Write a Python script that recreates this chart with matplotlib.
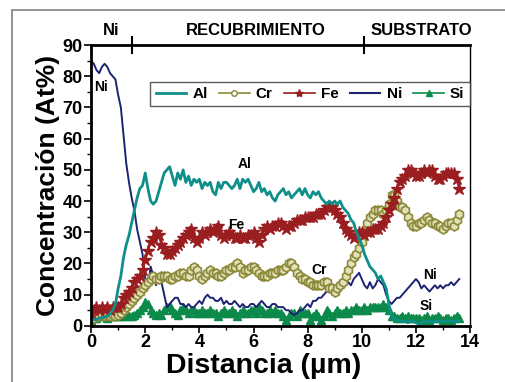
import numpy as np
import matplotlib.pyplot as plt
from matplotlib.lines import Line2D
from matplotlib.patches import Rectangle
import matplotlib.transforms as mtransforms

plt.rcParams["font.family"] = ["Liberation Sans", "DejaVu Sans"]
plt.rcParams["font.weight"] = "bold"

# distance (um), 0.1 step
x = np.round(np.arange(0, 13.65, 0.1), 2)

al = [2, 2, 2, 2.5, 2.5, 3, 3, 4, 5, 7,
      12, 16, 22, 26, 29, 33, 37, 41, 44, 45,
      49, 44, 40, 39, 40, 43, 46, 49, 50, 51,
      48, 45, 49, 47, 50, 46, 48, 45, 47, 46,
      47, 44, 46, 45, 46, 43, 42, 46, 44, 46,
      46, 45, 44, 45, 47, 44, 47, 46, 47, 45,
      43, 44, 46, 43, 44, 42, 43, 41, 40, 42,
      43, 44, 42, 43, 41, 42, 43, 44, 42, 44,
      42, 41, 43, 42, 43, 41, 40, 39, 40, 39,
      40, 39, 40, 38, 37, 36, 34, 33, 30, 28,
      26, 23, 21, 19, 18, 17, 15, 16, 14, 12,
      7, 3, 2, 2, 1.5, 1.5, 1.5, 1, 1.5, 1.5,
      1, 0.5, 1, 1.5, 1.5, 1.5, 1, 1.5, 1.5, 1.5,
      1.5, 1.5, 1.5, 1.5, 1.5, 1.5, 1.5]

ni = [85, 84, 82, 81, 83, 84, 83, 81, 80, 79,
      74, 70, 61, 52, 46, 41, 37, 31, 27, 23,
      15, 12, 19, 16, 13, 16, 14, 10, 6, 7,
      8, 9, 9, 7, 7, 6, 7, 6, 6, 7,
      8, 7, 9, 10, 9, 9, 8, 8, 9, 7,
      8, 7, 7, 8, 7, 6, 7, 6, 6, 7,
      7, 6, 7, 8, 7, 6, 6, 7, 7, 6,
      6, 6, 5, 5, 4, 3.5, 4, 5, 5, 6,
      7, 6, 8, 8, 9, 9, 10, 11, 12, 11,
      12, 11, 13, 12, 13, 14, 13, 15, 16, 17,
      15, 13, 12, 14, 12, 13, 15, 14, 13, 10,
      8, 7, 8, 9, 9, 10, 11, 12, 13, 14,
      15, 14, 12, 13, 12, 11, 12, 13, 12, 13,
      12, 13, 13, 14, 13, 14, 15]

fe = [4, 5, 6, 5, 6, 5, 6, 5, 6, 6,
      6, 7, 9, 10, 11, 12, 14, 15, 16, 18,
      21, 24, 27, 28, 30, 29, 26, 25, 23, 23,
      24, 25, 26, 27, 28, 29, 30, 31, 28, 27,
      28, 30, 29, 30, 31, 30, 31, 32, 29, 28,
      29, 30, 29, 28, 28, 29, 28, 28, 29, 29,
      30, 28, 27, 29, 31, 32, 31, 32, 32, 33,
      33, 32, 31, 32, 32, 33, 34, 34, 34, 35,
      35, 35, 35, 36, 36, 36, 37, 38, 38, 38,
      37, 36, 35, 33, 31, 30, 29, 28, 29, 30,
      30, 29, 30, 30, 31, 31, 31, 32, 33, 35,
      37, 39, 41, 44, 46, 47, 48, 50, 50, 49,
      48, 48, 49, 50, 49, 50, 50, 48, 47, 47,
      48, 49, 49, 49, 49, 47, 44]

cr = [3, 2.5, 3, 3, 3.5, 3, 3.5, 3, 3.5, 3,
      3.5, 4, 5, 6, 7, 8, 9, 10, 11, 12,
      13, 14, 15, 16, 15, 15, 16, 16, 16, 15,
      15, 16, 16, 17, 17, 16, 16, 18, 19, 18,
      16, 15, 16, 17, 18, 17, 17, 16, 16, 17,
      18, 18, 19, 19, 20, 19, 17, 18, 18, 19,
      19, 18, 17, 16, 16, 16, 17, 17, 17, 18,
      18, 18, 19, 20, 20, 19, 17, 16, 15, 15,
      14, 14, 13, 13, 13, 13, 14, 14, 12, 12,
      11, 12, 13, 14, 16, 18, 20, 22, 23, 25,
      27, 30, 33, 35, 36, 37, 37, 37, 36, 37,
      39, 42, 42, 40, 38, 38, 37, 35, 33, 32,
      32, 33, 33, 34, 35, 34, 33, 33, 32, 32,
      31, 32, 33, 33, 32, 34, 36]

si = [2, 2.5, 2.5, 3, 3, 3, 2.5, 3, 3, 3,
      3, 3, 3, 3.5, 3, 3, 3.5, 4, 5, 6,
      7.5, 7, 5, 4, 3.5, 4, 3.5, 5, 6, 6.5,
      5, 4, 3.5, 5, 6, 5, 4, 5, 5, 4,
      4, 5, 4, 4, 5, 4, 4, 3, 4, 5,
      4, 4, 5, 4, 3, 4, 5, 4, 4, 5,
      5, 4, 6, 5, 4, 4, 5, 4, 5, 4,
      4, 3, 2, 3, 4, 4, 3, 5, 4, 4,
      4, 2, 3, 4, 3, 2, 3, 5, 4, 3,
      4, 5, 4, 4, 5, 4, 5, 5, 6, 5,
      5, 6, 5, 6, 6, 6, 6, 6, 7, 6,
      5, 3, 3, 2.5, 2.5, 3, 2.5, 3, 2.5, 2.5,
      2.5, 2.5, 2, 2.5, 3, 2, 2.5, 2.5, 3, 2.5,
      2, 2.5, 2.5, 2, 2.5, 3, 2.5]

zones = ["Ni", "RECUBRIMIENTO", "SUBSTRATO"]
zone_centers = [0.75, 6.1, 12.2]
zone_edges = [1.5, 10.1]

c_al = "#0f8f8a"
c_cr = "#8b8a3a"
c_fe = "#9a1d20"
c_ni = "#1c2472"
c_si = "#0c8a4a"

fig = plt.figure(figsize=(5.06, 3.82), dpi=100)
ax = fig.add_axes([0.180, 0.147, 0.749, 0.735])

# outer frame of the original figure
fig.patches.append(Rectangle((12 / 506, -0.1), 1.2, 1.1 - 10 / 382,
                             transform=fig.transFigure, fill=False,
                             ec="#808080", lw=1.2))

ax.plot(x, si, color=c_si, lw=1.2, marker="^", ms=6, mec=c_si, mfc=c_si)
ax.plot(x, ni, color=c_ni, lw=1.4)
ax.plot(x, cr, color=c_cr, lw=1.2, marker="h", ms=6.5, mec=c_cr, mfc="#e4e1b8", mew=1.2)
ax.plot(x, fe, color=c_fe, lw=1.5, marker="*", ms=9, mec=c_fe, mfc=c_fe)
ax.plot(x, al, color=c_al, lw=2)

ax.set_xlim(0, 14)
ax.set_ylim(0, 90)
ax.set_xticks(np.arange(0, 15, 2))
ax.set_xticks(np.arange(0, 15, 1), minor=True)
ax.set_yticks(np.arange(0, 91, 10))
ax.set_yticks(np.arange(0, 91, 5), minor=True)
ax.tick_params(axis="both", which="major", direction="out", length=5, width=1.2,
               labelsize=13, pad=1)
ax.tick_params(axis="both", which="minor", direction="out", length=3, width=1.0)
for lab in ax.get_xticklabels() + ax.get_yticklabels():
    lab.set_fontweight("bold")

for s in ["left", "bottom", "top"]:
    ax.spines[s].set_linewidth(2)
ax.spines["right"].set_linewidth(1)

ax.set_xlabel("Distancia (\u00b5m)", fontsize=20.5, fontweight="bold")
ax.xaxis.set_label_coords(0.455, -0.095, transform=ax.transAxes)
ax.xaxis.label.set_va("top")
ax.set_ylabel("Concentración (At%)", fontsize=19, fontweight="bold", labelpad=2)

# zone labels and bracket ticks above the plot
trans = mtransforms.blended_transform_factory(ax.transData, ax.transAxes)
for name, cx in zip(zones, zone_centers):
    ax.text(cx, 1.025, name, transform=trans, ha="center", va="bottom",
            fontsize=12, fontweight="bold")
for ex in zone_edges:
    ax.plot([ex, ex], [0.97, 1.03], transform=trans, color="black", lw=1.5,
            clip_on=False)

# curve labels
ax.text(0.12, 76.5, "Ni", fontsize=10, fontweight="bold", va="center")
ax.text(5.4, 50.5, "Al", fontsize=10, fontweight="bold")
ax.text(5.05, 31, "Fe", fontsize=10, fontweight="bold")
ax.text(8.15, 16.5, "Cr", fontsize=10, fontweight="bold")
ax.text(12.25, 15, "Ni", fontsize=10, fontweight="bold")
ax.text(12.15, 5.2, "Si", fontsize=10, fontweight="bold")

handles = [
    Line2D([], [], color=c_al, lw=2),
    Line2D([], [], color=c_cr, lw=1.2, marker="o", ms=4, mfc="white", mec=c_cr),
    Line2D([], [], color=c_fe, lw=1.2, marker="*", ms=6, mfc=c_fe, mec=c_fe),
    Line2D([], [], color=c_ni, lw=1.5),
    Line2D([], [], color=c_si, lw=1.2, marker="^", ms=4, mfc=c_si, mec=c_si),
]
leg = ax.legend(handles, ["Al", "Cr", "Fe", "Ni", "Si"], ncol=5,
                loc="upper left", bbox_to_anchor=(0.156, 0.87),
                prop={"size": 11, "weight": "bold"}, frameon=True, fancybox=False,
                handlelength=2.0, handletextpad=0.4, columnspacing=0.75,
                borderpad=0.35, borderaxespad=0)
leg.get_frame().set_edgecolor("#333333")
leg.get_frame().set_linewidth(1.0)

fig.savefig("out.png", dpi=100)
